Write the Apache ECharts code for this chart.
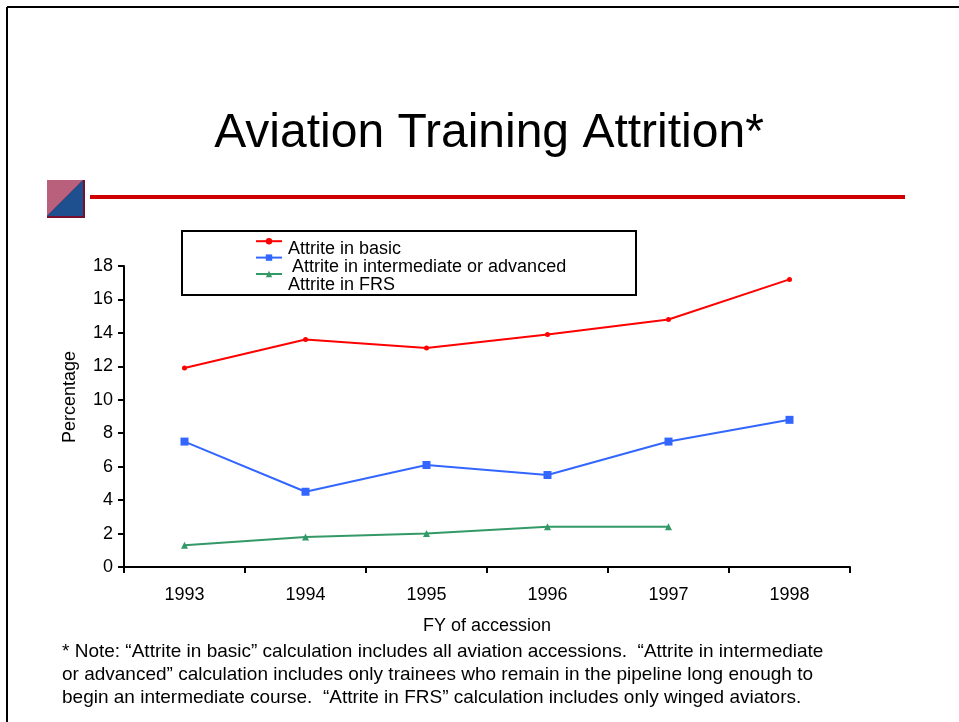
<!DOCTYPE html>
<html>
<head>
<meta charset="utf-8">
<script src="https://cdn.jsdelivr.net/npm/echarts@6/dist/echarts.min.js"></script>
<style>
  html, body { margin: 0; padding: 0; background: #fff; }
  #chart { width: 959px; height: 722px; }
</style>
</head>
<body>
<div id="chart"></div>
<script>
const years = ['1993', '1994', '1995', '1996', '1997', '1998']
const basic = [11.9, 13.6, 13.1, 13.9, 14.8, 17.2]
const intermediate = [7.5, 4.5, 6.1, 5.5, 7.5, 8.8]
const frs = [1.3, 1.8, 2.0, 2.4, 2.4, null]
const seriesNames = ['Attrite in basic', 'Attrite in intermediate or advanced', 'Attrite in FRS']
const noteLines = [
  '* Note: \u201cAttrite in basic\u201d calculation includes all aviation accessions.  \u201cAttrite in intermediate',
  'or advanced\u201d calculation includes only trainees who remain in the pipeline long enough to',
  'begin an intermediate course.  \u201cAttrite in FRS\u201d calculation includes only winged aviators.'
]

const font = 'Liberation Sans, Arial, sans-serif'
const chart = echarts.init(document.getElementById('chart'))

// legend labels sit a few pixels below their line samples, as in the original slide
const legendLabels = seriesNames.map((name, i) => ({
  type: 'text',
  x: i === 1 ? 292 : 288,
  y: 249 + i * 18,
  style: {
    text: name,
    font: '18px ' + font,
    fill: '#000',
    verticalAlign: 'middle'
  }
}))

const option = {
  backgroundColor: '#fff',
  animation: false,
  textStyle: { fontFamily: font, color: '#000' },
  grid: { left: 124, right: 109, top: 266, bottom: 155 },
  legend: {
    orient: 'vertical',
    left: 250,
    top: 233,
    itemWidth: 26,
    itemHeight: 8,
    itemGap: 10,
    data: seriesNames,
    formatter: () => '',
    textStyle: { fontSize: 1, lineHeight: 1 }
  },
  xAxis: {
    type: 'category',
    data: years,
    name: 'FY of accession',
    nameLocation: 'middle',
    nameGap: 50,
    nameTextStyle: { fontSize: 18, color: '#000' },
    axisLine: { lineStyle: { color: '#000', width: 2 } },
    axisTick: { show: true, length: 6, lineStyle: { color: '#000', width: 2 } },
    axisLabel: { margin: 19, fontSize: 18, color: '#000' },
    splitLine: { show: false }
  },
  yAxis: {
    type: 'value',
    min: 0,
    max: 18,
    interval: 2,
    axisLine: { show: true, lineStyle: { color: '#000', width: 2 } },
    axisTick: { show: true, length: 6, lineStyle: { color: '#000', width: 2 } },
    axisLabel: { margin: 11, fontSize: 18, color: '#000' },
    splitLine: { show: false }
  },
  series: [
    {
      name: seriesNames[0],
      type: 'line',
      data: basic,
      symbol: 'circle',
      symbolSize: 5,
      lineStyle: { color: '#ff0000', width: 2 },
      itemStyle: { color: '#ff0000' }
    },
    {
      name: seriesNames[1],
      type: 'line',
      data: intermediate,
      symbol: 'rect',
      symbolSize: 8,
      lineStyle: { color: '#3366ff', width: 2 },
      itemStyle: { color: '#3366ff' }
    },
    {
      name: seriesNames[2],
      type: 'line',
      data: frs,
      symbol: 'triangle',
      symbolSize: 7,
      lineStyle: { color: '#339966', width: 2 },
      itemStyle: { color: '#339966' }
    }
  ],
  graphic: [
    // slide frame
    { type: 'line', shape: { x1: 7, y1: 7, x2: 959, y2: 7 }, style: { stroke: '#000', lineWidth: 2 } },
    { type: 'line', shape: { x1: 7, y1: 7, x2: 7, y2: 722 }, style: { stroke: '#000', lineWidth: 2 } },
    // title
    {
      type: 'text',
      x: 489,
      y: 134,
      style: {
        text: 'Aviation Training Attrition*',
        font: '48px ' + font,
        fill: '#000',
        align: 'center',
        verticalAlign: 'middle'
      }
    },
    // logo square
    { type: 'rect', shape: { x: 47, y: 180, width: 38, height: 38 }, style: { fill: '#7a1030' } },
    { type: 'polygon', shape: { points: [[47, 180], [83, 180], [47, 216]] }, style: { fill: '#b8607c' } },
    { type: 'polygon', shape: { points: [[83, 180], [83, 216], [47, 216]] }, style: { fill: '#1e4f8f' } },
    // red rule
    { type: 'line', shape: { x1: 90, y1: 197, x2: 905, y2: 197 }, style: { stroke: '#d00000', lineWidth: 4 } },
    // legend box
    { type: 'rect', shape: { x: 182, y: 231, width: 454, height: 64 }, style: { fill: 'none', stroke: '#000', lineWidth: 2 }, z: 10 },
    ...legendLabels,
    // y axis title
    {
      type: 'text',
      x: 70,
      y: 397,
      rotation: Math.PI / 2,
      style: {
        text: 'Percentage',
        font: '18px ' + font,
        fill: '#000',
        align: 'center',
        verticalAlign: 'middle'
      }
    },
    // note
    {
      type: 'text',
      x: 62,
      y: 640,
      style: {
        text: noteLines.join('\n'),
        font: '19px ' + font,
        lineHeight: 23,
        fill: '#000'
      }
    }
  ]
}

chart.setOption(option)
</script>
</body>
</html>
